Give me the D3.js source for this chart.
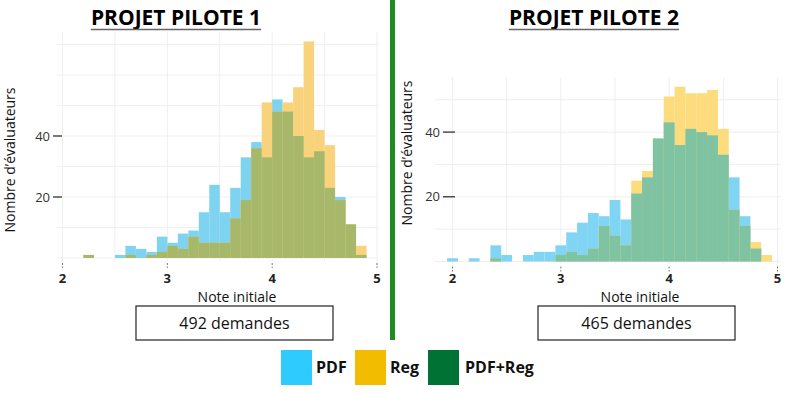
<!DOCTYPE html>
<html>
<head>
<meta charset="utf-8">
<script src="https://cdn.jsdelivr.net/npm/d3@7"></script>
<style>
  body { margin: 0; background: #fff; }
  text { font-family: "Open Sans", "DejaVu Sans", sans-serif; }
</style>
</head>
<body>
<svg id="chart" width="792" height="394"></svg>
<script>
// ─── Data ─────────────────────────────────────────────────────────────────────
// Histogram bins (lower edge, width 0.1) and counts
const bins1 = [2.2, 2.3, 2.4, 2.5, 2.6, 2.7, 2.8, 2.9, 3.0, 3.1, 3.2, 3.3, 3.4, 3.5,
               3.6, 3.7, 3.8, 3.9, 4.0, 4.1, 4.2, 4.3, 4.4, 4.5, 4.6, 4.7, 4.8];
const pdf1  = [1, 0, 0, 1, 4, 3, 2, 7, 5, 8, 9, 15, 24, 15,
               23, 33, 38, 33, 52, 48, 40, 33, 35, 23, 20, 11, 1];
const reg1  = [1, 0, 0, 0, 1, 0, 1, 2, 4, 3, 7, 5, 5, 5,
               13, 19, 36, 51, 48, 51, 56, 71, 42, 37, 19, 11, 4];

const bins2 = [1.95, 2.05, 2.15, 2.25, 2.35, 2.45, 2.55, 2.65, 2.75, 2.85, 2.95, 3.05, 3.15, 3.25, 3.35,
               3.45, 3.55, 3.65, 3.75, 3.85, 3.95, 4.05, 4.15, 4.25, 4.35, 4.45, 4.55, 4.65, 4.75, 4.85];
const pdf2  = [1, 0, 1, 0, 5, 2, 0, 2, 3, 3, 5, 9, 12, 15, 14,
               19, 13, 21, 26, 38, 43, 36, 41, 40, 39, 33, 26, 14, 4, 0];
const reg2  = [0, 0, 0, 0, 1, 0, 0, 0, 0, 0, 2, 3, 2, 4, 11,
               8, 5, 25, 28, 38, 51, 54, 52, 52, 53, 41, 16, 11, 6, 2];

const BIN_W = 0.1;
const xTicks = [2, 3, 4, 5];
const yTicks = [20, 40];
const titles = ["PROJET PILOTE 1", "PROJET PILOTE 2"];
const totals = ["492 demandes", "465 demandes"];
const legendItems = [
    { label: "PDF",     color: "#2ecbff" },
    { label: "Reg",     color: "#f2bc00" },
    { label: "PDF+Reg", color: "#007233" },
];

const svg = d3.select("#chart");

// ─── One histogram panel ──────────────────────────────────────────────────────
function drawPanel(p) {
    const x = d3.scaleLinear().domain([2, 5]).range(p.xRange);
    const y = d3.scaleLinear().domain([0, p.yMax]).range(p.yRange);
    const g = svg.append("g");
    const base = y(0), top = y(p.yMax);

    // faint grid
    g.selectAll(".vg").data(d3.range(2, 5.01, 0.5)).join("line")
        .attr("x1", d => x(d)).attr("x2", d => x(d))
        .attr("y1", top).attr("y2", base + 3)
        .attr("stroke", "#efefef").attr("stroke-width", 1);
    g.selectAll(".hg").data(d3.range(0, p.yMax, 10)).join("line")
        .attr("x1", p.gridX[0]).attr("x2", p.gridX[1])
        .attr("y1", d => y(d)).attr("y2", d => y(d))
        .attr("stroke", "#efefef").attr("stroke-width", 1);

    const rows = p.bins.map((b, i) => ({ b, pdf: p.pdf[i], reg: p.reg[i] }));
    const bar = (sel, val, color) => sel.selectAll(null).data(rows).join("rect")
        .attr("x", d => x(d.b))
        .attr("width", d => x(d.b + BIN_W) - x(d.b))
        .attr("y", d => y(val(d)))
        .attr("height", d => base - y(val(d)))
        .attr("fill", color);

    bar(g, d => d.pdf, p.colors.pdf);
    bar(g, d => d.reg, p.colors.reg);
    bar(g, d => Math.min(d.pdf, d.reg), p.colors.both);

    // y ticks: "40 —"
    const yt = g.selectAll(".yt").data(yTicks).join("g");
    yt.append("line")
        .attr("x1", p.yTickX[0]).attr("x2", p.yTickX[1])
        .attr("y1", d => y(d)).attr("y2", d => y(d))
        .attr("stroke", "#333").attr("stroke-width", 1.3);
    yt.append("text")
        .attr("x", p.yTickX[0] - 3).attr("y", d => y(d) + 4.5)
        .attr("text-anchor", "end").attr("font-size", 13).attr("fill", "#333")
        .text(d => d);

    // x ticks
    const xt = g.selectAll(".xt").data(xTicks).join("g");
    xt.append("line")
        .attr("x1", d => x(d)).attr("x2", d => x(d))
        .attr("y1", base + 5).attr("y2", base + 10)
        .attr("stroke", "#777").attr("stroke-dasharray", "2,1.5");
    xt.append("text")
        .attr("x", d => x(d)).attr("y", p.xLabelY)
        .attr("text-anchor", "middle").attr("font-size", 13)
        .attr("font-weight", "bold").attr("fill", "#222")
        .text(d => d);

    // axis titles
    g.append("text")
        .attr("x", p.noteX).attr("y", 302)
        .attr("text-anchor", "middle").attr("font-size", 14).attr("fill", "#111")
        .text("Note initiale");
    g.append("text")
        .attr("transform", `translate(${p.yTitleX},${p.yTitleY}) rotate(-90)`)
        .attr("text-anchor", "middle").attr("font-size", 14).attr("fill", "#111")
        .text("Nombre d\u2019évaluateurs");

    // title, underlined
    const t = g.append("text")
        .attr("x", p.titleX).attr("y", 25)
        .attr("text-anchor", "middle").attr("font-size", 21)
        .attr("font-weight", "bold").attr("fill", "#000")
        .text(p.title);
    const tw = t.node().getComputedTextLength();
    g.append("line")
        .attr("x1", p.titleX - tw / 2).attr("x2", p.titleX + tw / 2)
        .attr("y1", 29.5).attr("y2", 29.5)
        .attr("stroke", "#666").attr("stroke-width", 1.6);

    // count box
    g.append("rect")
        .attr("x", p.box[0]).attr("y", 306).attr("width", p.box[1] - p.box[0]).attr("height", 34)
        .attr("fill", "#fff").attr("stroke", "#222").attr("stroke-width", 1.2);
    g.append("text")
        .attr("x", (p.box[0] + p.box[1]) / 2).attr("y", 329)
        .attr("text-anchor", "middle").attr("font-size", 16).attr("fill", "#111")
        .text(p.total);
}

drawPanel({
    bins: bins1, pdf: pdf1, reg: reg1, title: titles[0], total: totals[0],
    xRange: [62.5, 377], yRange: [258, 32.3], yMax: 74, gridX: [57, 378],
    yTickX: [53, 62], xLabelY: 283, noteX: 237, yTitleX: 15, yTitleY: 160,
    titleX: 176, box: [136, 333],
    colors: { pdf: "#7dd3f0", reg: "#f8d37c", both: "#a7b86b" },
});

drawPanel({
    bins: bins2, pdf: pdf2, reg: reg2, title: titles[1], total: totals[1],
    xRange: [452.5, 777.5], yRange: [261.5, 77.1], yMax: 57, gridX: [435, 781],
    yTickX: [443, 455], xLabelY: 283, noteX: 640, yTitleX: 412, yTitleY: 153,
    titleX: 594, box: [538, 735],
    colors: { pdf: "#80d4f4", reg: "#fddc7e", both: "#7fc3a2" },
});

// ─── Green separator ──────────────────────────────────────────────────────────
svg.append("rect")
    .attr("x", 390).attr("y", 0).attr("width", 5).attr("height", 340)
    .attr("fill", "#1e8c1e");

// ─── Legend ───────────────────────────────────────────────────────────────────
const legendX = [281, 355, 428];
const leg = svg.selectAll(".leg").data(legendItems).join("g")
    .attr("transform", (d, i) => `translate(${legendX[i]},350)`);
leg.append("rect")
    .attr("width", 31).attr("height", 35)
    .attr("fill", d => d.color);
leg.append("text")
    .attr("x", (d, i) => i === 2 ? 37 : 35).attr("y", 23)
    .attr("font-size", 16).attr("font-weight", "bold").attr("fill", "#111")
    .text(d => d.label);
</script>
</body>
</html>
